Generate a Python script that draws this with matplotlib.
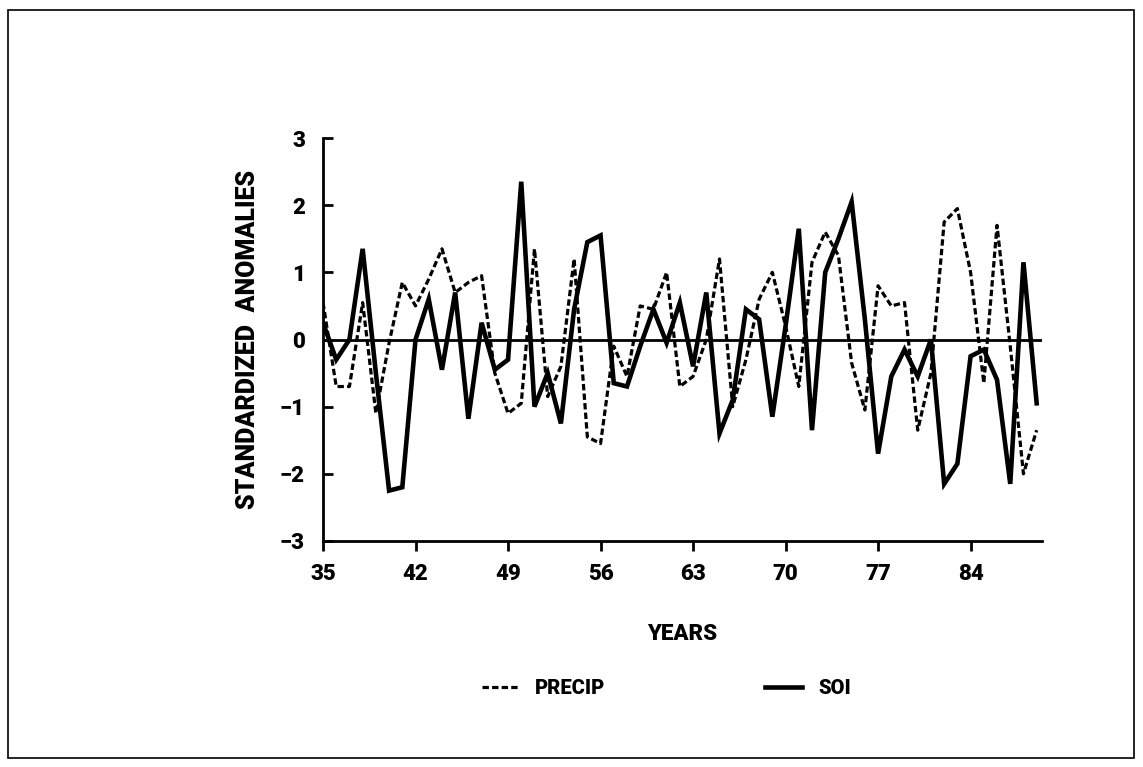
import matplotlib
matplotlib.use('Agg')
import matplotlib.pyplot as plt
import matplotlib.patches as patches
from matplotlib.lines import Line2D
import numpy as np

# data (years 1935-1989)
years = np.arange(35, 90)

soi = [0.25, -0.3, 0.0, 1.35, -0.5, -2.25, -2.2, 0.0, 0.6, -0.45,
       0.7, -1.18, 0.25, -0.45, -0.3, 2.35, -1.0, -0.5, -1.25, 0.45,
       1.45, 1.55, -0.65, -0.7, -0.1, 0.45, -0.05, 0.55, -0.4, 0.7,
       -1.4, -0.9, 0.45, 0.3, -1.15, 0.2, 1.65, -1.35, 1.0, 1.5,
       2.05, 0.3, -1.7, -0.55, -0.15, -0.55, 0.0, -2.15, -1.85, -0.25,
       -0.15, -0.6, -2.15, 1.15, -0.95]

precip = [0.55, -0.7, -0.7, 0.55, -1.1, -0.05, 0.85, 0.5, 0.9, 1.35,
          0.7, 0.85, 0.95, -0.5, -1.1, -0.95, 1.35, -0.85, -0.4, 1.2,
          -1.45, -1.55, -0.1, -0.55, 0.5, 0.45, 1.0, -0.7, -0.55, 0.0,
          1.2, -1.0, -0.3, 0.6, 1.0, 0.2, -0.7, 1.15, 1.6, 1.25,
          -0.35, -1.05, 0.8, 0.5, 0.55, -1.35, -0.5, 1.75, 1.95, 1.0,
          -0.65, 1.7, -0.1, -2.0, -1.35]

xticks = [35, 42, 49, 56, 63, 70, 77, 84]
yticks = [-3, -2, -1, 0, 1, 2, 3]

plt.rcParams['font.family'] = ['Roboto', 'Liberation Sans', 'DejaVu Sans']
W = 'black'

fig = plt.figure(figsize=(11.43, 7.67), dpi=100)
fig.patch.set_facecolor('white')

# thin frame round the whole picture
fig.add_artist(patches.Rectangle((0.007, 0.012), 0.985, 0.975, transform=fig.transFigure,
                                 fill=False, edgecolor='black', linewidth=1.2))

ax = fig.add_axes([0.2826, 0.2947, 0.629, 0.5253])

dash = (0, (2.0, 1.0))
ax.axhline(0, color='black', linewidth=2)
ax.plot(years, precip, color='black', linewidth=2.3, linestyle=dash)
ax.plot(years, soi, color='black', linewidth=3.3, solid_joinstyle='miter')

ax.set_xlim(35, 89.4)
ax.set_ylim(-3, 3)
ax.set_xticks(xticks)
ax.set_yticks(yticks)
ax.set_xticklabels([str(t) for t in xticks])
ax.set_yticklabels([str(t).replace('-', '\u2212') for t in yticks])

for s in ['top', 'right']:
    ax.spines[s].set_visible(False)
for s in ['left', 'bottom']:
    ax.spines[s].set_linewidth(2)

ax.tick_params(axis='y', direction='in', length=7, width=2, labelsize=16, pad=13)
ax.tick_params(axis='x', direction='out', length=7, width=2, labelsize=16, pad=9)
for lab in ax.get_xticklabels() + ax.get_yticklabels():
    lab.set_fontweight(W)

ax.set_xlabel('YEARS', fontsize=16, fontweight=W, labelpad=27)
ax.set_ylabel('STANDARDIZED  ANOMALIES', fontsize=18, fontweight=W, labelpad=14)

# legend below the axes
h_p = Line2D([], [], color='black', linewidth=2.3, linestyle=dash)
h_s = Line2D([], [], color='black', linewidth=3.3)
fig.legend([h_p, h_s], ['PRECIP', 'SOI'], ncol=2, loc='center',
           bbox_to_anchor=(0.583, 0.102), frameon=False,
           prop={'weight': W, 'size': 14.5},
           handlelength=1.85, handletextpad=0.8, columnspacing=7.9)

fig.savefig('out.png', dpi=100)
